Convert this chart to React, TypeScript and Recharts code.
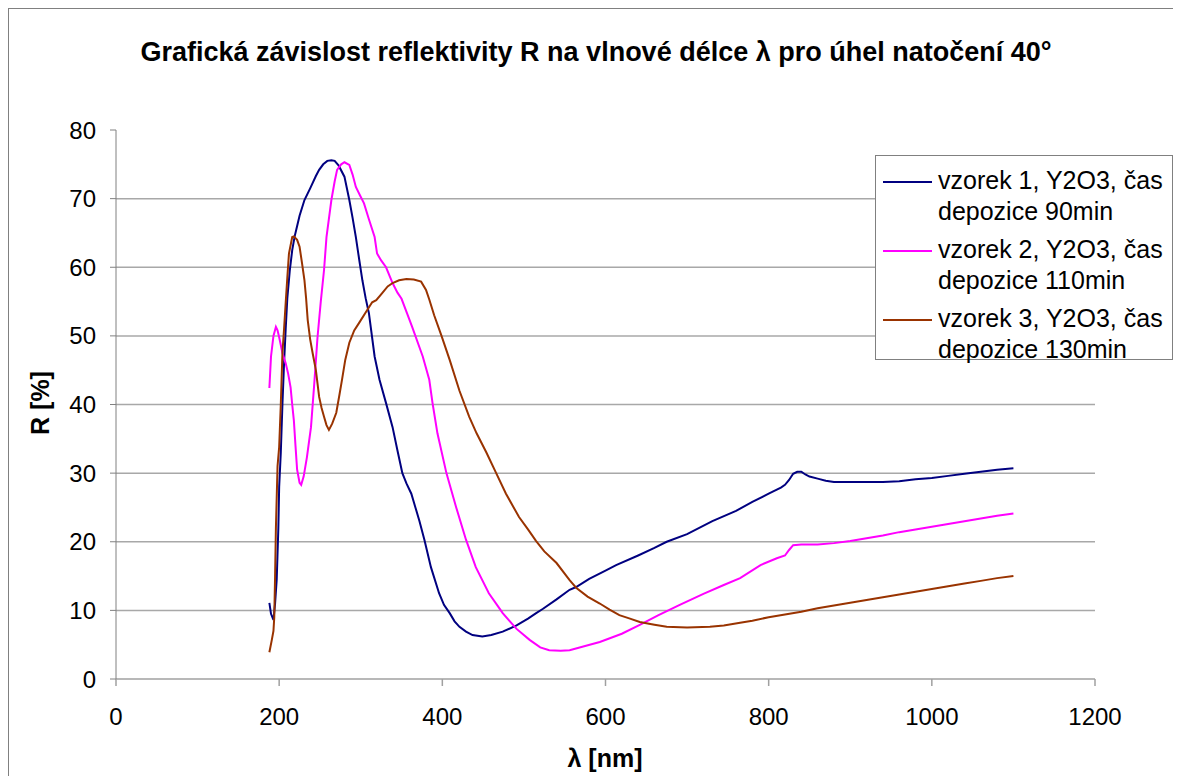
import React from "react";
import { LineChart, Line, XAxis, YAxis, ReferenceLine } from "recharts";

const FONT = '"Liberation Sans", Arial, sans-serif';

const xTicks = [0, 200, 400, 600, 800, 1000, 1200];
const yTicks = [0, 10, 20, 30, 40, 50, 60, 70, 80];
const gridValues = [10, 20, 30, 40, 50, 60, 70];

// [wavelength nm, R %]
const vzorek1: [number, number][] = [
  [188, 11.1], [190, 9.5], [193, 8.6], [195, 11], [197, 14.5], [199, 22], [200, 28], [202, 33], [204, 40],
  [206, 46], [208, 51], [210, 55.5], [213, 59.5], [216, 62.5], [219, 64.5], [221, 65.5], [225, 67.5],
  [231, 69.8], [238, 71.5], [245, 73.3], [249, 74.2], [254, 75], [259, 75.5], [264, 75.6], [268, 75.5],
  [273, 74.8], [280, 73.2], [286, 69.8], [290, 67.2], [294, 64.4], [298, 61.2], [302, 58.1], [306, 55.5],
  [310, 53.3], [317, 47], [323, 43.6], [331, 40.2], [339, 36.7], [345, 33.3], [351, 30], [356, 28.5],
  [362, 27], [367, 25], [372, 23], [378, 20.3], [386, 16.3], [396, 12.5], [402, 10.8], [409, 9.6],
  [415, 8.4], [421, 7.6], [429, 6.9], [437, 6.4], [449, 6.2], [460, 6.4], [474, 6.9], [491, 7.8],
  [505, 8.8], [515, 9.6], [523, 10.2], [540, 11.6], [556, 13], [564, 13.4], [580, 14.6], [600, 15.8],
  [613, 16.6], [640, 18], [660, 19.1], [675, 20], [700, 21.1], [731, 23], [760, 24.5], [780, 25.8],
  [800, 27], [810, 27.6], [815, 27.9], [820, 28.3], [825, 29], [830, 29.9], [835, 30.2], [840, 30.2],
  [845, 29.8], [850, 29.5], [860, 29.2], [870, 28.9], [880, 28.7], [900, 28.7], [920, 28.7], [940, 28.7],
  [960, 28.8], [980, 29.1], [1000, 29.3], [1020, 29.6], [1040, 29.9], [1060, 30.2], [1080, 30.5], [1100, 30.7],
];

const vzorek2: [number, number][] = [
  [188, 42.4], [190, 47], [193, 50], [196, 51.3], [198, 50.8], [200, 49.8], [204, 47.5], [208, 46],
  [211, 44.5], [214, 42.5], [216, 40], [218, 37.7], [220, 34], [222, 30.5], [225, 28.6], [227, 28.3],
  [230, 29.5], [234, 32.3], [239, 36.7], [243, 43], [247, 49.8], [251, 55], [255, 59.6], [258, 64.4],
  [264, 69.8], [268, 72.5], [271, 74.2], [276, 75], [280, 75.3], [286, 74.9], [290, 73.5], [294, 71.7],
  [299, 70.5], [304, 69.3], [310, 67], [317, 64.4], [320, 62], [325, 61], [331, 60], [339, 57.7],
  [345, 56.3], [350, 55.4], [357, 53.2], [363, 51.3], [376, 47], [384, 43.6], [388, 40.2], [394, 35.8],
  [405, 30], [417, 25], [429, 20.3], [441, 16.3], [457, 12.5], [470, 10.3], [474, 9.6], [491, 7.3],
  [507, 5.7], [520, 4.6], [531, 4.2], [545, 4.1], [556, 4.2], [575, 4.8], [593, 5.4], [620, 6.6],
  [642, 7.9], [665, 9.3], [691, 10.8], [720, 12.4], [745, 13.7], [765, 14.7], [790, 16.6], [810, 17.6],
  [820, 18], [825, 18.8], [830, 19.5], [840, 19.6], [860, 19.6], [880, 19.8], [900, 20.1], [920, 20.5],
  [940, 20.9], [960, 21.4], [980, 21.8], [1000, 22.2], [1020, 22.6], [1040, 23], [1060, 23.4], [1080, 23.8],
  [1100, 24.1],
];

const vzorek3: [number, number][] = [
  [188, 3.9], [191, 5.7], [193, 7], [194, 9], [195, 15], [196, 22], [198, 31], [200, 33.8], [202, 40],
  [204, 47.5], [206, 51], [208, 54.8], [210, 58.5], [212, 62], [216, 64.4], [218, 64.5], [222, 64],
  [225, 63], [228, 60.6], [231, 58.1], [233, 55.5], [235, 52.3], [238, 49.5], [241, 47.5], [245, 45],
  [249, 41.1], [252, 39.5], [255, 38.2], [258, 37], [261, 36.3], [265, 37.2], [270, 38.8], [274, 41.5],
  [277, 43.6], [281, 46.5], [286, 49], [292, 50.8], [298, 51.9], [306, 53.4], [314, 54.9], [319, 55.2],
  [326, 56.2], [333, 57.2], [339, 57.7], [347, 58.1], [356, 58.3], [365, 58.2], [374, 57.9], [380, 56.7],
  [384, 55.3], [390, 53], [399, 50], [409, 46.5], [421, 42], [433, 38.2], [442, 35.8], [454, 33],
  [466, 30], [478, 27], [494, 23.6], [505, 21.8], [515, 20.1], [525, 18.6], [540, 16.9], [556, 14.4],
  [564, 13.3], [578, 12], [593, 11], [605, 10.1], [617, 9.3], [630, 8.8], [642, 8.3], [660, 7.9],
  [675, 7.6], [700, 7.5], [728, 7.6], [745, 7.8], [765, 8.2], [780, 8.5], [800, 9], [820, 9.4],
  [840, 9.8], [860, 10.3], [880, 10.7], [900, 11.1], [920, 11.5], [940, 11.9], [960, 12.3], [980, 12.7],
  [1000, 13.1], [1020, 13.5], [1040, 13.9], [1060, 14.3], [1080, 14.7], [1100, 15],
];

const series = [
  { name: "s1", data: vzorek1, color: "#000080", label: ["vzorek 1, Y2O3, čas", "depozice 90min"] },
  { name: "s2", data: vzorek2, color: "#ff00ff", label: ["vzorek 2, Y2O3, čas", "depozice 110min"] },
  { name: "s3", data: vzorek3, color: "#993300", label: ["vzorek 3, Y2O3, čas", "depozice 130min"] },
];

const toPoints = (arr: [number, number][]) => arr.map(([x, y]) => ({ x, y }));

export default function App() {
  return (
    <div style={{ position: "relative", width: 1173, height: 768, fontFamily: FONT }}>
      <div
        style={{
          position: "absolute",
          left: 0,
          top: 0,
          width: 1173,
          height: 768,
          borderLeft: "1px solid #808080",
          borderTop: "1px solid #808080",
          boxSizing: "border-box",
        }}
      />
      <div
        style={{
          position: "absolute",
          left: 0,
          width: 1176,
          top: 44,
          transform: "translateY(-50%)",
          textAlign: "center",
          fontSize: 27,
          fontWeight: "bold",
          color: "#000",
          whiteSpace: "nowrap",
        }}
      >
        Grafická závislost reflektivity R na vlnové délce λ pro úhel natočení 40°
      </div>

      <div style={{ position: "absolute", left: 0, top: 0 }}>
        <LineChart width={1173} height={768} margin={{ top: 122, right: 86, left: 0, bottom: 37 }}>
          <XAxis
            type="number"
            dataKey="x"
            domain={[0, 1200]}
            ticks={xTicks}
            interval={0}
            height={60}
            allowDuplicatedCategory={false}
            axisLine={{ stroke: "#a0a0a0", strokeWidth: 1.5 }}
            tickLine={{ stroke: "#a0a0a0", strokeWidth: 1.5 }}
            tickSize={7}
            tickMargin={22}
            tick={{ fontSize: 24, fill: "#000", fontFamily: FONT }}
          />
          <YAxis
            type="number"
            dataKey="y"
            domain={[0, 80]}
            ticks={yTicks}
            interval={0}
            width={108}
            axisLine={{ stroke: "#808080" }}
            tickLine={{ stroke: "#808080" }}
            tickSize={6}
            tickMargin={14}
            tick={{ fontSize: 24, fill: "#000", fontFamily: FONT }}
          />
          {gridValues.map((v) => (
            <ReferenceLine key={v} y={v} stroke="#a8a8a8" strokeWidth={1.5} />
          ))}
          {series.map((s) => (
            <Line
              key={s.name}
              data={toPoints(s.data)}
              dataKey="y"
              type="linear"
              stroke={s.color}
              strokeWidth={2}
              dot={false}
              activeDot={false}
              isAnimationActive={false}
            />
          ))}
        </LineChart>
      </div>

      <div
        style={{
          position: "absolute",
          left: 32,
          top: 395,
          transform: "translate(-50%, -50%) rotate(-90deg)",
          fontSize: 25,
          fontWeight: "bold",
          whiteSpace: "nowrap",
        }}
      >
        R [%]
      </div>
      <div
        style={{
          position: "absolute",
          left: 597,
          top: 750,
          transform: "translate(-50%, -50%)",
          fontSize: 25,
          fontWeight: "bold",
          whiteSpace: "nowrap",
        }}
      >
        λ [nm]
      </div>

      <div
        style={{
          position: "absolute",
          left: 867,
          top: 147,
          width: 298,
          height: 205,
          border: "1px solid #808080",
          background: "#fff",
          boxSizing: "border-box",
          paddingTop: 9,
        }}
      >
        {series.map((s) => (
          <div key={s.name} style={{ position: "relative", height: 62, marginBottom: 7, fontSize: 25, lineHeight: "31px" }}>
            <div style={{ position: "absolute", left: 7, top: 16, width: 49, height: 2, background: s.color }} />
            <div style={{ position: "absolute", left: 62, top: 0, whiteSpace: "nowrap" }}>
              {s.label[0]}
              <br />
              {s.label[1]}
            </div>
          </div>
        ))}
      </div>
    </div>
  );
}
